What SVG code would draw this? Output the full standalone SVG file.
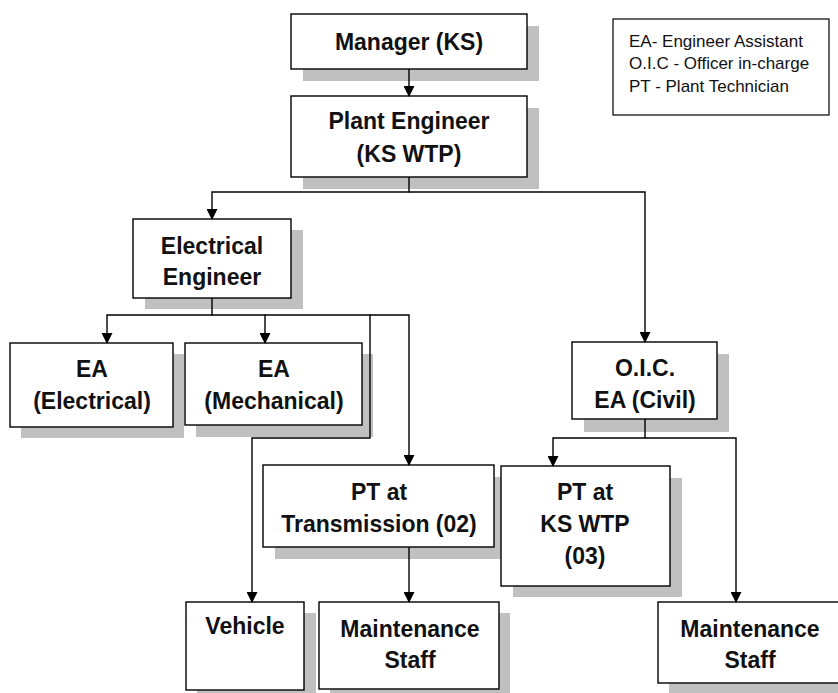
<svg xmlns="http://www.w3.org/2000/svg" width="838" height="693" viewBox="0 0 838 693">
<style>
.sh{fill:#c0c0c0}
.bx{fill:#fff;stroke:#000;stroke-width:1.4}
.t{font-family:"Liberation Sans",Arial,sans-serif;font-weight:bold;font-size:23px;text-anchor:middle;fill:#111}
.lg{font-family:"Liberation Sans",Arial,sans-serif;font-size:17px;fill:#111}
.c{fill:none;stroke:#000;stroke-width:1.4}
</style>
<defs>
<marker id="ah" markerUnits="userSpaceOnUse" markerWidth="11" markerHeight="11" refX="10" refY="5.5" orient="auto">
<path d="M0,0 L11,5.5 L0,11 z" fill="#000"/>
</marker>
</defs>
<rect width="838" height="693" fill="#fff"/>
<g id="legend">
<rect x="613" y="19" width="216" height="96" fill="#fff" stroke="#000" stroke-width="1.2"/>
<text class="lg" x="629" y="47">EA- Engineer Assistant</text>
<text class="lg" x="629" y="69">O.I.C - Officer in-charge</text>
<text class="lg" x="629" y="92">PT - Plant Technician</text>
</g>
<g id="manager">
<rect class="sh" x="303" y="26" width="236" height="55"/>
<rect class="bx" x="291" y="14" width="236" height="55"/>
<text class="t" x="409" y="50">Manager (KS)</text>
</g>
<g id="plant-engineer">
<rect class="sh" x="303" y="108" width="236" height="81"/>
<rect class="bx" x="291" y="96" width="236" height="81"/>
<text class="t" x="409" y="129">Plant Engineer</text>
<text class="t" x="409" y="162">(KS WTP)</text>
</g>
<g id="electrical-engineer">
<rect class="sh" x="145" y="230" width="158" height="79"/>
<rect class="bx" x="133" y="219" width="158" height="79"/>
<text class="t" x="212" y="254">Electrical</text>
<text class="t" x="212" y="285">Engineer</text>
</g>
<g id="ea-electrical">
<rect class="sh" x="21" y="354" width="163" height="84"/>
<rect class="bx" x="10" y="343" width="163" height="84"/>
<text class="t" x="92" y="377">EA</text>
<text class="t" x="92" y="409">(Electrical)</text>
</g>
<g id="ea-mechanical">
<rect class="sh" x="196" y="354" width="177" height="83"/>
<rect class="bx" x="185" y="343" width="177" height="82"/>
<text class="t" x="274" y="377">EA</text>
<text class="t" x="274" y="409">(Mechanical)</text>
</g>
<g id="oic">
<rect class="sh" x="584" y="354" width="145" height="78"/>
<rect class="bx" x="572" y="342" width="145" height="77"/>
<text class="t" x="645" y="376">O.I.C.</text>
<text class="t" x="645" y="408">EA (Civil)</text>
</g>
<g id="pt-transmission">
<rect class="sh" x="275" y="477" width="231" height="82"/>
<rect class="bx" x="263" y="465" width="231" height="82"/>
<text class="t" x="379" y="500">PT at</text>
<text class="t" x="379" y="532">Transmission (02)</text>
</g>
<g id="pt-kswtp">
<rect class="sh" x="513" y="478" width="169" height="119"/>
<rect class="bx" x="501" y="466" width="169" height="120"/>
<text class="t" x="585" y="500">PT at</text>
<text class="t" x="585" y="532">KS WTP</text>
<text class="t" x="585" y="564">(03)</text>
</g>
<g id="vehicle">
<rect class="sh" x="197" y="613" width="119" height="90"/>
<rect class="bx" x="186" y="602" width="118" height="88"/>
<text class="t" x="245" y="634">Vehicle</text>
</g>
<g id="maintenance-mid">
<rect class="sh" x="330" y="613" width="180" height="90"/>
<rect class="bx" x="319" y="602" width="180" height="87"/>
<text class="t" x="410" y="637">Maintenance</text>
<text class="t" x="410" y="668">Staff</text>
</g>
<g id="maintenance-right">
<rect class="sh" x="669" y="613" width="190" height="90"/>
<rect class="bx" x="658" y="602" width="190" height="81"/>
<text class="t" x="750" y="637">Maintenance</text>
<text class="t" x="750" y="668">Staff</text>
</g>
<g id="connectors">
<path class="c" d="M409,69 V96" marker-end="url(#ah)"/>
<path class="c" d="M409,177 V192 H212 V219" marker-end="url(#ah)"/>
<path class="c" d="M409,192 H645 V342" marker-end="url(#ah)"/>
<path class="c" d="M212,298 V315 H107 V343" marker-end="url(#ah)"/>
<path class="c" d="M212,315 H265 V343" marker-end="url(#ah)"/>
<path class="c" d="M265,315 H370 V438 H252 V602" marker-end="url(#ah)"/>
<path class="c" d="M370,315 H409 V465" marker-end="url(#ah)"/>
<path class="c" d="M409,547 V602" marker-end="url(#ah)"/>
<path class="c" d="M645,419 V438 H553 V466" marker-end="url(#ah)"/>
<path class="c" d="M645,438 H736 V602" marker-end="url(#ah)"/>
</g>
</svg>
